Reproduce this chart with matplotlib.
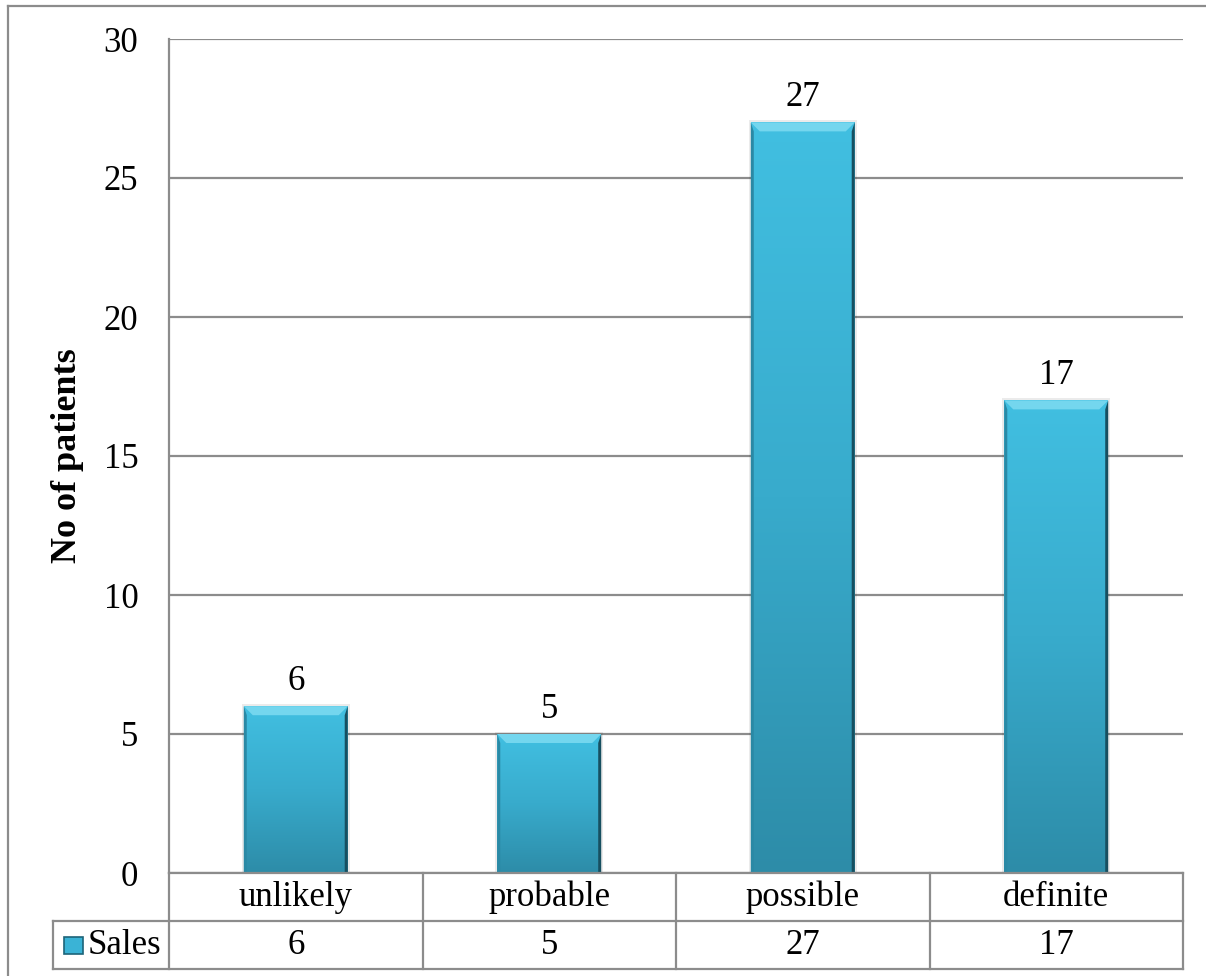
import numpy as np
import matplotlib
matplotlib.use('Agg')
from matplotlib import pyplot as plt
from matplotlib.patches import Polygon, Rectangle
from matplotlib.lines import Line2D
from matplotlib.colors import LinearSegmentedColormap

categories = ['unlikely', 'probable', 'possible', 'definite']
values = [6, 5, 27, 17]
series_name = 'Sales'
y_label = 'No of patients'
y_ticks = [0, 5, 10, 15, 20, 25, 30]

plt.rcParams['font.family'] = ['Liberation Serif', 'DejaVu Serif']
grid_col = '#8c8c8c'
fs = 25

fig = plt.figure(figsize=(12.06, 9.76), dpi=100)
W, H = 1206, 976

# outer chart frame
fig.add_artist(Line2D([8 / W, 8 / W], [0, 1 - 6 / H], color=grid_col, lw=1.6))
fig.add_artist(Line2D([8 / W, 1], [1 - 6 / H, 1 - 6 / H], color=grid_col, lw=1.6))

ax = fig.add_axes([169 / W, 1 - 873 / H, (1183 - 169) / W, (873 - 39) / H])
ax.set_xlim(-0.5, len(categories) - 0.5)
ax.set_ylim(0, 30)
ax.set_yticks(y_ticks)
ax.set_yticklabels([str(t) for t in y_ticks], fontsize=fs)
ax.tick_params(axis='y', length=0, pad=22)
ax.set_xticks([])
for s in ['top', 'right', 'bottom']:
    ax.spines[s].set_visible(False)
ax.spines['left'].set_color(grid_col)
ax.spines['left'].set_linewidth(1.6)
ax.yaxis.grid(True, color=grid_col, lw=1.6)
ax.set_axisbelow(True)
ax.text((68 - 169) / 1014, 0.5, y_label, transform=ax.transAxes, rotation=90,
        ha='center', va='center', fontsize=fs + 1, fontweight='bold')

x = np.arange(len(categories))
bw = 0.41
bars = ax.bar(x, values, width=bw, color='#38aed0', edgecolor='none', zorder=2)

cmap = LinearSegmentedColormap.from_list('bar', ['#2d8ca8', '#38abcc', '#41bfe1'])
grad = np.linspace(0, 1, 256).reshape(-1, 1)
px_x = (1183 - 169) / 4.0
px_y = (873 - 39) / 30.0
bx, by = 9 / px_x, 9 / px_y
ex = 3 / px_x
for b, v in zip(bars, values):
    x0, x1 = b.get_x(), b.get_x() + b.get_width()
    # soft shadow
    ax.add_patch(Rectangle((x0 - 2 / px_x, 0), x1 - x0 + 4 / px_x, v + 2 / px_y,
                           color='#000000', alpha=0.08, zorder=1.5, lw=0))
    im = ax.imshow(grad, extent=(x0, x1, 0, v), origin='lower', cmap=cmap,
                   aspect='auto', zorder=2.1)
    im.set_clip_path(b)
    # top bevel
    ax.add_patch(Polygon([(x0, v), (x1, v), (x1 - bx, v - by), (x0 + bx, v - by)],
                         closed=True, color='#74d6ee', lw=0, zorder=2.2))
    # side edges
    ax.add_patch(Polygon([(x0, 0), (x0, v), (x0 + ex, v - by), (x0 + ex, 0)],
                         closed=True, color='#2a89a5', lw=0, zorder=2.3))
    ax.add_patch(Polygon([(x1, 0), (x1, v), (x1 - ex, v - by), (x1 - ex, 0)],
                         closed=True, color='#174f60', lw=0, zorder=2.3))
    ax.annotate(str(v), (b.get_x() + b.get_width() / 2, v), xytext=(0, 6),
                textcoords='offset points', ha='center', va='bottom', fontsize=fs)

ax.set_xlim(-0.5, len(categories) - 0.5)
ax.set_ylim(0, 30)

# data table below the axes
ah = 873 - 39
r1 = -(921 - 873) / ah
r2 = -(969 - 873) / ah
left_cell = -0.5 - (169 - 53) / px_x
tr = ax.get_xaxis_transform()
lk = dict(color=grid_col, lw=1.6, transform=tr, clip_on=False, zorder=3)
ax.add_line(Line2D([-0.5, 3.5], [0, 0], **lk))
ax.add_line(Line2D([left_cell, 3.5], [r1, r1], **lk))
ax.add_line(Line2D([left_cell, 3.5], [r2, r2], **lk))
ax.add_line(Line2D([left_cell, left_cell], [r1, r2], **lk))
for xb in np.arange(len(categories) + 1) - 0.5:
    ax.add_line(Line2D([xb, xb], [0, r2], **lk))
for xi, c, v in zip(x, categories, values):
    ax.text(xi, r1 / 2, c, transform=tr, ha='center', va='center', fontsize=fs)
    ax.text(xi, (r1 + r2) / 2, str(v), transform=tr, ha='center', va='center', fontsize=fs)

# legend key in the table
kx0 = -0.5 - (169 - 64) / px_x
kw = 19 / px_x
kh = 17 / ah
ky = (r1 + r2) / 2 - kh / 2
ax.add_patch(Rectangle((kx0, ky), kw, kh, transform=tr, clip_on=False,
                       facecolor='#3ab3d6', edgecolor='#1d6479', lw=1.2, zorder=3))
ax.text(-0.5 - (169 - 88) / px_x, (r1 + r2) / 2, series_name, transform=tr,
        ha='left', va='center', fontsize=fs)

fig.savefig('out.png', dpi=100)
